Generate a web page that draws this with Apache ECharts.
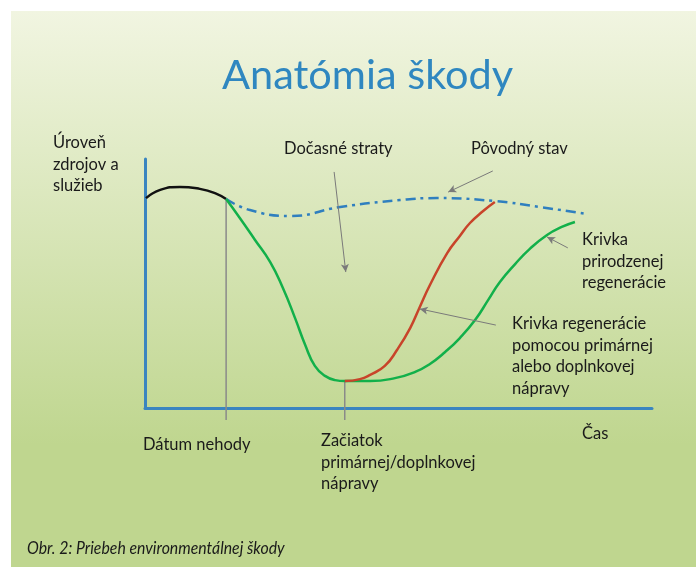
<!DOCTYPE html>
<html><head><meta charset="utf-8">
<script src="https://cdn.jsdelivr.net/npm/echarts@6/dist/echarts.min.js"></script>
<style>html,body{margin:0;padding:0;background:#fff}#c{width:696px;height:567px}</style>
</head><body><div id="c"></div>
<script>
// Time (0-100) vs level of resources/services (0-100)
const preIncident = [[0.2,84.3],[3.0,87.6],[6.9,88.8],[10.8,88.0],[13.8,86.3],[16.0,83.9]];
const baseline = [[16.0,83.9],[20.7,79.5],[28.6,77.1],[38.5,80.7],[50.3,83.5],[57.6,84.3],[69.0,83.1],[77.9,80.7],[87.2,77.9]];
const naturalRecovery = [[16.0,83.9],[18.7,76.3],[21.7,67.5],[24.7,58.6],[27.2,48.2],[29.6,36.1],[31.6,25.3],[33.5,16.9],[35.5,12.9],[37.5,11.2],[39.4,10.8],[44.4,10.8],[49.3,12.0],[53.3,14.5],[56.2,17.7],[59.2,22.5],[62.1,28.1],[65.1,35.3],[67.7,43.4],[70.0,50.6],[73.0,57.8],[75.9,63.9],[79.3,69.5],[82.2,72.7],[84.8,74.7]];
const remediationRecovery = [[39.4,10.8],[42.4,11.6],[44.4,13.3],[47.3,16.9],[49.7,23.3],[52.3,32.1],[54.2,40.6],[56.2,49.4],[59.6,62.2],[62.1,69.1],[64.1,74.3],[66.7,79.1],[69.0,82.7]];
const incidentDate = [[16.0,83.9],[16.0,-4.8]];
const remediationStart = [[39.4,10.8],[39.4,-4.8]];
const arrows = [
  [[37.3,94.8],[39.6,54.6]],
  [[68.6,95.2],[59.8,86.7]],
  [[83.4,64.3],[79.3,68.7]],
  [[69.2,33.3],[54.2,39.8]]
];
const labels = {
  title: 'Anatómia škody',
  yName: 'Úroveň\nzdrojov a\nslužieb',
  loss: 'Dočasné straty',
  base: 'Pôvodný stav',
  natural: 'Krivka\nprirodzenej\nregenerácie',
  remed: 'Krivka regenerácie\npomocou primárnej\nalebo doplnkovej\nnápravy',
  xName: 'Čas',
  incident: 'Dátum nehody',
  start: 'Začiatok\nprimárnej/doplnkovej\nnápravy',
  caption: 'Obr. 2: Priebeh environmentálnej škody'
};

const FONT = 'Lato, "Open Sans", sans-serif';
const chart = echarts.init(document.getElementById('c'), null, {renderer:'canvas'});
function txt(text, x, y, size, lh) {
  return {type:'text', z:10, style:{text, x, y, fill:'#1a1a1a', font:'normal '+size+'px '+FONT, lineHeight:lh, align:'left', verticalAlign:'top'}};
}
chart.setOption({
  animation:false,
  graphic:[
    {type:'rect', z:-10, shape:{x:11,y:11,width:685,height:556}, style:{fill:new echarts.graphic.LinearGradient(0,0,0,1,[{offset:0,color:'#f1f5e1'},{offset:0.78,color:'#bfd68f'},{offset:1,color:'#bfd68f'}])}},
    {type:'text', z:10, style:{text:labels.title,x:222,y:55,fill:'#2f87c0',font:'normal 41.5px '+FONT,align:'left',verticalAlign:'top'}},
    txt(labels.yName, 53, 132, 16.5, 21.5),
    txt(labels.loss, 284, 138, 16.5, 21.5),
    txt(labels.base, 471, 138, 16.5, 21.5),
    txt(labels.natural, 582, 229, 16.5, 21.5),
    txt(labels.remed, 512, 313, 16.5, 21.5),
    txt(labels.xName, 582, 423, 16.5, 21.5),
    txt(labels.incident, 143, 434, 16.5, 21.5),
    txt(labels.start, 321, 430, 16.5, 21.5),
    {type:'text', z:10, x:27, y:539, scaleX:0.88, style:{text:labels.caption, x:0, y:0, fill:'#1a1a1a', font:'italic 18px '+FONT, align:'left', verticalAlign:'top'}}
  ],
  grid:{left:145, top:159, right:44, bottom:159},
  xAxis:{type:'value', min:0, max:100, axisLine:{show:true, onZero:false, lineStyle:{color:'#3a85c0', width:3}}, axisTick:{show:false}, axisLabel:{show:false}, splitLine:{show:false}},
  yAxis:{type:'value', min:0, max:100, axisLine:{show:true, onZero:false, lineStyle:{color:'#3a85c0', width:3}}, axisTick:{show:false}, axisLabel:{show:false}, splitLine:{show:false}},
  series:[
    {type:'line', data:incidentDate, symbol:'none', clip:false, lineStyle:{color:'#8a8a8a', width:1.5}, z:1},
    {type:'line', data:remediationStart, symbol:'none', clip:false, lineStyle:{color:'#8a8a8a', width:1.5}, z:1},
    {type:'line', data:preIncident, smooth:true, symbol:'none', lineStyle:{color:'#111', width:2.5}, z:3},
    {type:'line', data:baseline, smooth:true, symbol:'none', lineStyle:{color:'#2f7fbf', width:2.5, type:[10,5,3,5]}, z:3},
    {type:'line', data:naturalRecovery, smooth:true, symbol:'none', lineStyle:{color:'#12b04a', width:2.5}, z:3},
    {type:'line', data:remediationRecovery, smooth:true, symbol:'none', lineStyle:{color:'#c8442a', width:2.5}, z:4,
      markLine:{silent:true, symbol:['none','arrow'], symbolSize:[6,8], label:{show:false}, lineStyle:{color:'#7a7a7a', width:1, type:'solid'},
        data: arrows.map(a=>[{coord:a[0]},{coord:a[1]}])}}
  ]
});
</script></body></html>
